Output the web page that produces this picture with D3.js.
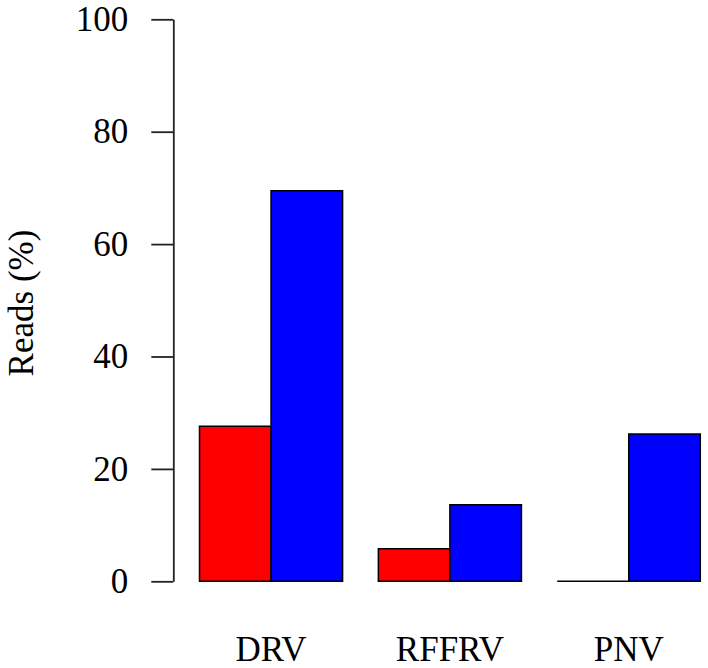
<!DOCTYPE html>
<html>
<head>
<meta charset="utf-8">
<script src="https://cdn.jsdelivr.net/npm/d3@7"></script>
<style>
  body { margin: 0; background: #fff; }
  text { font-family: "Liberation Serif", "Times New Roman", Times, "DejaVu Serif", serif !important; fill: #000; }
</style>
</head>
<body>
<svg id="chart" width="708" height="668"></svg>
<script>
// data
var categories = ["DRV", "RFFRV", "PNV"];
var seriesNames = ["s1", "s2"];
var seriesColors = ["#ff0000", "#0000ff"];
var s1Values = [27.6, 5.8, 0];
var s2Values = [69.5, 13.6, 26.2];
var yTicks = [0, 20, 40, 60, 80, 100];

var serif = "'Liberation Serif', 'Times New Roman', Times, serif";

var svg = d3.select("#chart");

var y = d3.scaleLinear().domain([0, 100]).range([581.3, 19.3]);

var x = d3.scaleBand()
    .domain(categories)
    .range([199.5, 700.3])
    .paddingInner(0.2)
    .paddingOuter(0);

var xInner = d3.scaleBand()
    .domain(seriesNames)
    .range([0, x.bandwidth()]);

var rows = categories.map(function(c, i) {
  return { cat: c, vals: [s1Values[i], s2Values[i]] };
});

var groups = svg.selectAll(".grp")
  .data(rows)
  .enter().append("g")
    .attr("class", "grp")
    .attr("transform", function(d) { return "translate(" + x(d.cat) + ",0)"; });

// paths so that a zero value still shows as a flat line, like R does
groups.selectAll("path")
  .data(function(d) { return d.vals.map(function(v, j) { return { v: v, s: seriesNames[j], c: seriesColors[j] }; }); })
  .enter().append("path")
    .attr("d", function(d) {
      var x0 = xInner(d.s), w = xInner.bandwidth(), y0 = y(0), y1 = y(d.v);
      return "M" + x0 + "," + y0 + "V" + y1 + "H" + (x0 + w) + "V" + y0 + "Z";
    })
    .attr("fill", function(d) { return d.c; })
    .attr("stroke", "#000")
    .attr("stroke-width", 1.5);

// y axis
var yAxis = svg.append("g")
    .attr("transform", "translate(173.3,0)")
    .call(d3.axisLeft(y).tickValues(yTicks).tickSize(22).tickSizeOuter(0).tickPadding(23))
    .attr("font-family", serif)
    .attr("font-size", 35);

yAxis.select(".domain").attr("stroke", "#222").attr("stroke-width", 1.8);
yAxis.selectAll(".tick line").attr("stroke", "#222").attr("stroke-width", 1.8);
yAxis.selectAll(".tick text").attr("fill", "#000");

// category labels
svg.selectAll(".xlab")
  .data(categories)
  .enter().append("text")
    .attr("class", "xlab")
    .attr("x", function(d) { return x(d) + x.bandwidth() / 2; })
    .attr("y", 661)
    .attr("text-anchor", "middle")
    .attr("font-family", serif)
    .attr("font-size", 35)
    .text(function(d) { return d; });

// y axis title
svg.append("text")
    .attr("transform", "translate(33,303) rotate(-90)")
    .attr("text-anchor", "middle")
    .attr("font-family", serif)
    .attr("font-size", 35)
    .text("Reads (%)");
</script>
</body>
</html>
